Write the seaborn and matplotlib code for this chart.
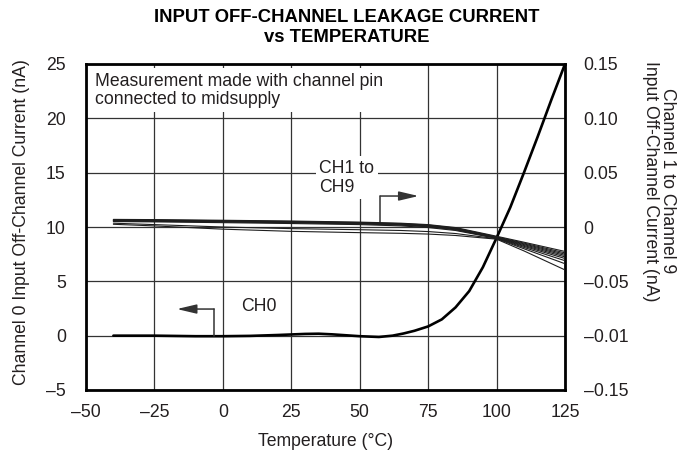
import numpy as np
import pandas as pd
import matplotlib
matplotlib.use("Agg")
import matplotlib.pyplot as plt
import seaborn as sns

# ---- data -------------------------------------------------------------
# Channel 0 leakage (left axis, nA)
ch0_temp = [-40, -25, -10, 0, 10, 20, 30, 35, 40, 50, 57, 62, 66, 70, 75,
            80, 85, 90, 95, 100, 105, 110, 115, 120, 125]
ch0_current = [0.0, 0.0, -0.05, -0.05, -0.02, 0.06, 0.16, 0.18, 0.12, -0.05,
               -0.12, 0.0, 0.2, 0.45, 0.85, 1.5, 2.6, 4.1, 6.3, 9.0, 11.8,
               15.0, 18.3, 21.7, 25.0]

# Channels 1..9 leakage (right axis, nA)
ch19_temp = [-40, -25, 0, 25, 50, 65, 75, 85, 100, 110, 125]
ch1 = [0.0070, 0.0068, 0.0062, 0.0055, 0.0045, 0.0035, 0.0022, -0.0005, -0.0085, -0.0140, -0.0225]
ch2 = [0.0066, 0.0064, 0.0058, 0.0051, 0.0041, 0.0031, 0.0018, -0.0010, -0.0090, -0.0148, -0.0238]
ch3 = [0.0063, 0.0061, 0.0055, 0.0048, 0.0038, 0.0028, 0.0014, -0.0014, -0.0094, -0.0155, -0.0250]
ch4 = [0.0060, 0.0058, 0.0052, 0.0045, 0.0035, 0.0025, 0.0010, -0.0018, -0.0097, -0.0162, -0.0262]
ch5 = [0.0057, 0.0055, 0.0049, 0.0042, 0.0032, 0.0021, 0.0006, -0.0022, -0.0100, -0.0170, -0.0275]
ch6 = [0.0054, 0.0052, 0.0046, 0.0038, 0.0028, 0.0017, 0.0002, -0.0026, -0.0102, -0.0178, -0.0290]
ch7 = [0.0050, 0.0047, 0.0040, 0.0032, 0.0022, 0.0010, -0.0005, -0.0032, -0.0105, -0.0188, -0.0310]
ch8 = [0.0035, 0.0022, 0.0000, -0.0015, -0.0025, -0.0032, -0.0042, -0.0060, -0.0108, -0.0200, -0.0338]
ch9 = [0.0025, 0.0010, -0.0020, -0.0040, -0.0052, -0.0058, -0.0065, -0.0078, -0.0112, -0.0220, -0.0395]
ch19_names = ["CH1", "CH2", "CH3", "CH4", "CH5", "CH6", "CH7", "CH8", "CH9"]
ch19_values = [ch1, ch2, ch3, ch4, ch5, ch6, ch7, ch8, ch9]

x_ticks = [-50, -25, 0, 25, 50, 75, 100, 125]
x_tick_labels = ["\u201350", "\u201325", "0", "25", "50", "75", "100", "125"]
left_ticks = [-5, 0, 5, 10, 15, 20, 25]
left_tick_labels = ["\u20135", "0", "5", "10", "15", "20", "25"]
right_ticks = [-0.15, -0.10, -0.05, 0.0, 0.05, 0.10, 0.15]
right_tick_labels = ["\u20130.15", "\u20130.01", "\u20130.05", "0", "0.05", "0.10", "0.15"]

# ---- frames ----------------------------------------------------------
df0 = pd.DataFrame({"temp": ch0_temp, "current": ch0_current})
df19 = pd.concat(
    [pd.DataFrame({"temp": ch19_temp, "current": v, "channel": n})
     for n, v in zip(ch19_names, ch19_values)],
    ignore_index=True,
)

# ---- style -----------------------------------------------------------
sns.set_theme(style="white")
plt.rcParams["font.family"] = ["Liberation Sans", "DejaVu Sans"]
ink = "#231f20"
grid_c = "#333333"
fs = 12.7

fig = plt.figure(figsize=(6.94, 4.66), dpi=100)
ax = fig.add_axes([86 / 694, 1 - 390 / 466, (565 - 86) / 694, (390 - 64) / 466])

ax.set_xlim(-50, 125)
ax.set_ylim(-5, 25)
ax.set_xticks(x_ticks)
ax.set_xticklabels(x_tick_labels)
ax.set_yticks(left_ticks)
ax.set_yticklabels(left_tick_labels)
ax.grid(True, color=grid_c, lw=0.9)
ax.set_axisbelow(True)
ax.tick_params(axis="both", length=0, labelsize=fs, labelcolor=ink)
ax.tick_params(axis="y", pad=14.5)
ax.tick_params(axis="x", pad=10)
for s in ax.spines.values():
    s.set_visible(True)
    s.set_color("black")
    s.set_linewidth(2.0)

sns.lineplot(data=df0, x="temp", y="current", ax=ax, color="black",
             lw=1.9, estimator=None, sort=False, zorder=4)
ax.set_xlabel("")
ax.set_ylabel("")

ax2 = ax.twinx()
ax2.set_ylim(-0.15, 0.15)
sns.lineplot(data=df19, x="temp", y="current", units="channel",
             estimator=None, ax=ax2, color="#1e1e1e", lw=0.8, sort=False)
ax2.set_yticks(right_ticks)
ax2.set_yticklabels(right_tick_labels)
ax2.tick_params(axis="y", length=0, labelsize=fs, labelcolor=ink, pad=13.5)
ax2.set_xlabel("")
ax2.set_ylabel("")
for s in ax2.spines.values():
    s.set_visible(False)
ax2.grid(False)

# ---- annotations -----------------------------------------------------
ax.text(-46.7, 24.2,
        "Measurement made with channel pin\nconnected to midsupply",
        ha="left", va="top", fontsize=fs, color=ink, linespacing=1.1,
        zorder=5,
        bbox=dict(boxstyle="square,pad=0.25", fc="white", ec="none"))

ax.text(35.3, 14.55, "CH1 to\nCH9", ha="left", va="center", fontsize=fs,
        color=ink, linespacing=1.15, zorder=5,
        bbox=dict(boxstyle="square,pad=0.2", fc="white", ec="none"))

ax.text(13.2, 2.7, "CH0", ha="center", va="center", fontsize=fs,
        color=ink, zorder=5)

arrow_kw = dict(arrowstyle="-|>,head_length=0.85,head_width=0.2",
                lw=1.1, color="#333333", shrinkA=0, shrinkB=0,
                mutation_scale=14)
# CH1..CH9 pointer (to right axis)
ax.plot([57.5, 57.5], [10.4, 12.85], color="#333333", lw=1.1, zorder=5)
ax.annotate("", xy=(71.5, 12.85), xytext=(57.5, 12.85),
            arrowprops=arrow_kw, zorder=5)
# CH0 pointer (to left axis)
ax.plot([-3.2, -3.2], [0.0, 2.45], color="#333333", lw=1.1, zorder=5)
ax.annotate("", xy=(-16.8, 2.45), xytext=(-3.2, 2.45),
            arrowprops=arrow_kw, zorder=5)

# ---- titles and axis labels -----------------------------------------
fig.text(0.5, 1 - 17 / 466, "INPUT OFF-CHANNEL LEAKAGE CURRENT",
         ha="center", va="center", fontsize=13.3, fontweight="bold",
         color="black")
fig.text(0.5, 1 - 38 / 466, "vs TEMPERATURE",
         ha="center", va="center", fontsize=13.3, fontweight="bold",
         color="black")
fig.text(325.5 / 694, 1 - 441 / 466, "Temperature (\u00b0C)", ha="center",
         va="center", fontsize=fs, color=ink)
fig.text(22 / 694, 1 - 222 / 466, "Channel 0 Input Off-Channel Current (nA)",
         ha="center", va="center", rotation=90, fontsize=fs, color=ink)
fig.text(659 / 694, 1 - 181 / 466,
         "Channel 1 to Channel 9\nInput Off-Channel Current (nA)",
         ha="center", va="center", rotation=270, fontsize=fs, color=ink,
         multialignment="center", linespacing=1.0)

fig.savefig("out.png", dpi=100, facecolor="white")
